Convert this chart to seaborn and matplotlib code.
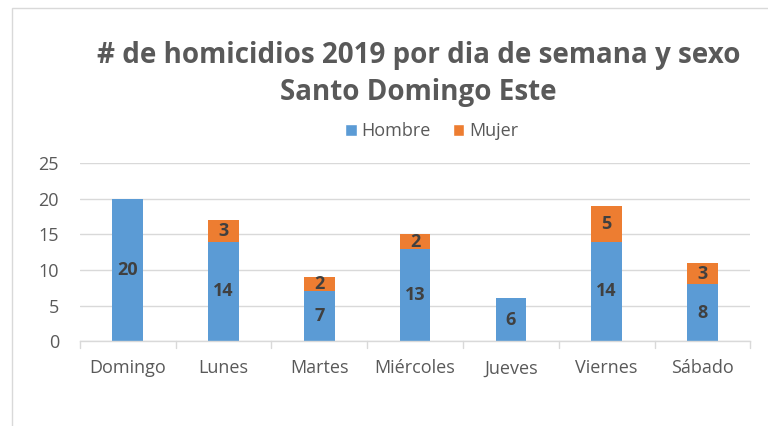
import matplotlib
matplotlib.use("Agg")
import matplotlib.pyplot as plt
import seaborn as sns
import pandas as pd
from matplotlib.patches import Patch, Rectangle

dias = ["Domingo", "Lunes", "Martes", "Miércoles", "Jueves", "Viernes", "Sábado"]
hombre = [20, 14, 7, 13, 6, 14, 8]
mujer = [0, 3, 2, 2, 0, 5, 3]
yticks = [0, 5, 10, 15, 20, 25]

sns.set_theme(style="white")
plt.rcParams['font.family'] = ['Open Sans', 'DejaVu Sans']

blue = "#5B9BD5"
orange = "#ED7D31"
txt = "#595959"

df = pd.DataFrame({"dia": dias, "Hombre": hombre, "Mujer": mujer})
df["Total"] = df["Hombre"] + df["Mujer"]

fig = plt.figure(figsize=(7.68, 4.26), dpi=100)
ax = fig.add_axes([0.104, 0.199, 0.873, 0.418])

sns.barplot(data=df, x="dia", y="Total", color=orange, width=0.32, ax=ax,
            saturation=1, edgecolor="none", linewidth=0)
sns.barplot(data=df, x="dia", y="Hombre", color=blue, width=0.32, ax=ax,
            saturation=1, edgecolor="none", linewidth=0)

for i, (h, m) in enumerate(zip(hombre, mujer)):
    if h > 0:
        ax.text(i, h / 2, str(h), ha="center", va="center", fontsize=13,
                fontweight="bold", color="#404040")
    if m > 0:
        ax.text(i, h + m / 2, str(m), ha="center", va="center", fontsize=13,
                fontweight="bold", color="#404040")

ax.set_ylim(0, 25)
ax.set_xlim(-0.5, len(dias) - 0.5)
ax.set_yticks(yticks)
ax.yaxis.grid(True, color="#D9D9D9", linewidth=1)
ax.set_axisbelow(True)
for s in ["top", "right", "left"]:
    ax.spines[s].set_visible(False)
ax.spines["bottom"].set_color("#D9D9D9")
ax.spines["bottom"].set_linewidth(1)
ax.set_xlabel("")
ax.set_ylabel("")
ax.tick_params(axis="y", length=0, labelsize=13, labelcolor=txt, pad=15)
ax.tick_params(axis="x", length=0, labelsize=13, labelcolor=txt, pad=13)
for b in [k - 0.5 for k in range(len(dias) + 1)]:
    ax.plot([b, b], [0, -0.9], color="#D9D9D9", lw=1, clip_on=False)

fig.text(0.545, 0.87, "# de homicidios 2019 por dia de semana y sexo",
         ha="center", va="center", fontsize=20, fontweight="bold", color=txt)
fig.text(0.545, 0.783, "Santo Domingo Este",
         ha="center", va="center", fontsize=20, fontweight="bold", color=txt)

handles = [Patch(facecolor=blue, label="Hombre"), Patch(facecolor=orange, label="Mujer")]
fig.legend(handles=handles, loc="center", bbox_to_anchor=(0.562, 0.692), ncol=2,
           frameon=False, fontsize=13, handlelength=0.65, handleheight=0.65,
           handletextpad=0.25, columnspacing=1.2, labelcolor=txt)

fig.patches.append(Rectangle((12 / 768, -0.1), 1.2, 1 - 8 / 426 + 0.1,
                             transform=fig.transFigure, fill=False,
                             edgecolor="#D9D9D9", lw=1))

fig.savefig("out.png", dpi=100)
